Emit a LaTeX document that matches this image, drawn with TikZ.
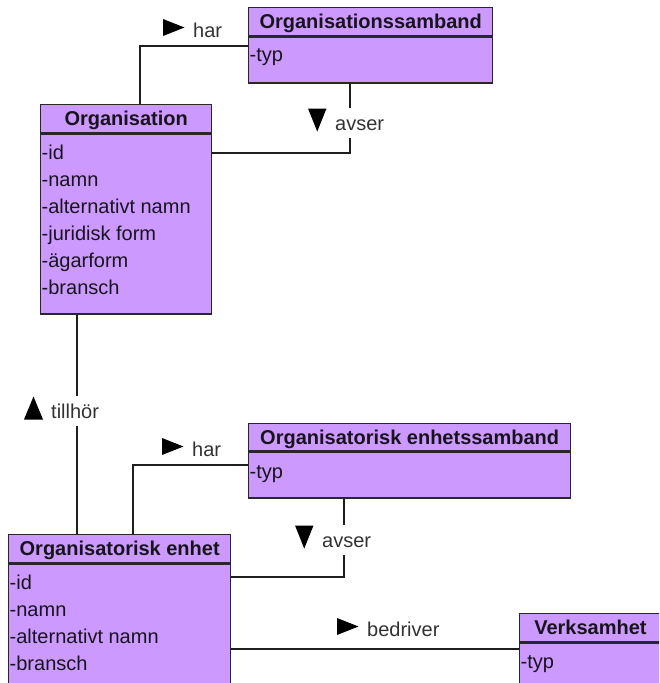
\documentclass[tikz,border=0pt]{standalone}
\usepackage{fontspec}
\setmainfont{Liberation Sans}
\usetikzlibrary{calc}

\definecolor{boxfill}{RGB}{204,153,255}
\definecolor{boxline}{RGB}{40,40,44}
\definecolor{txt}{RGB}{24,20,28}
\definecolor{lbltxt}{RGB}{50,50,50}
\definecolor{linecol}{RGB}{30,30,30}

\tikzset{
  classhead/.style={draw=boxline, fill=boxfill, line width=1.4pt, anchor=north west,
    inner sep=0pt, text=txt, font=\bfseries\fontsize{20}{22}\selectfont,
    text height=14pt, text depth=0pt},
  classbody/.style={draw=boxline, fill=boxfill, line width=1.4pt, anchor=north west,
    inner sep=0pt},
  attr/.style={anchor=base west, inner sep=0pt, text=txt,
    font=\fontsize{20}{22}\selectfont},
  rel/.style={anchor=base west, inner xsep=0pt, inner ysep=0pt, text=lbltxt,
    font=\fontsize{20}{22}\selectfont, text height=22pt, text depth=8pt},
  conn/.style={draw=linecol, line width=1.3pt},
  tri/.style={fill=black}
}

\begin{document}
\begin{tikzpicture}[x=1pt,y=-1pt]
\useasboundingbox (0,0) rectangle (659,683);
\clip (0,0) rectangle (659,683);

% ---- classes ----
\node[classhead, minimum width=244pt, minimum height=28pt] (osH) at (248,7) {Organisationssamband};
\node[classbody, minimum width=244pt, minimum height=46pt] (osB) at (osH.south west) {};

\node[classhead, minimum width=171pt, minimum height=28pt] (orgH) at (40,104) {Organisation};
\node[classbody, minimum width=171pt, minimum height=180pt] (orgB) at (orgH.south west) {};

\node[classhead, minimum width=322pt, minimum height=27pt] (oesH) at (248,423) {Organisatorisk enhetssamband};
\node[classbody, minimum width=322pt, minimum height=46pt] (oesB) at (oesH.south west) {};

\node[classhead, minimum width=222pt, minimum height=28pt] (oeH) at (8,534) {Organisatorisk enhet};
\node[classbody, minimum width=222pt, minimum height=160pt] (oeB) at (oeH.south west) {};

% the Verksamhet box runs past the right edge; its title sits at x = 590
\node[classhead, minimum width=160pt, minimum height=28pt] (vsH) at (519,613) {};
\node[classbody, minimum width=160pt, minimum height=80pt] (vsB) at (vsH.south west) {};
\node[anchor=base, inner sep=0pt, text=txt, font=\bfseries\fontsize{20}{22}\selectfont]
  (vsT) at (590.5,634) {Verksamhet};

% ---- attributes ----
\node[attr] (os-1) at ($(osB.north west)+(1.5,25)$) {-typ};
\foreach \t [count=\i] in {-id,-namn,-alternativt namn,-juridisk form,-ägarform,-bransch}
  \node[attr] (org-\i) at ($(orgB.north west)+(1.5,27*\i-0.5)$) {\t};
\node[attr] (oes-1) at ($(oesB.north west)+(1.5,27)$) {-typ};
\foreach \t [count=\i] in {-id,-namn,-alternativt namn,-bransch}
  \node[attr] (oe-\i) at ($(oeB.north west)+(1.5,27*\i-0.5)$) {\t};
\node[attr] (vs-1) at ($(vsB.north west)+(1.5,26)$) {-typ};

% ---- association labels ----
\node[rel] (har1) at (193,37) {har};
\node[rel] (avs1) at (335,130) {avser};
\node[rel] (till) at (51,418) {tillhör};
\node[rel] (har2) at (192,456) {har};
\node[rel] (avs2) at (322,547) {avser};
\node[rel] (bedr) at (367,636) {bedriver};

% direction triangles
\foreach \n in {har1,har2,bedr}
  \fill[tri] ($(\n.base west)+(-30,-18)$) -- ($(\n.base west)+(-8.5,-9.5)$)
             -- ($(\n.base west)+(-30,-1)$) -- cycle;
\foreach \n in {avs1,avs2}
  \fill[tri] ($(\n.base west)+(-27,-21.5)$) -- ($(\n.base west)+(-8.5,-21.5)$)
             -- ($(\n.base west)+(-17.75,1.5)$) -- cycle;
\fill[tri] ($(till.base west)+(-27,1.5)$) -- ($(till.base west)+(-8,1.5)$)
           -- ($(till.base west)+(-17.5,-21.5)$) -- cycle;

% ---- bend points ----
\coordinate (harBend1) at (140,46);
\coordinate (avsBend1) at (350,153);
\coordinate (tillX)    at (77,0);
\coordinate (harBend2) at (133,465);
\coordinate (avsBend2) at (344,577);
\coordinate (bedrY)    at (0,649);

% ---- connectors ----
\draw[conn] (orgH.north -| harBend1) -- (harBend1) -- (osB.west |- harBend1);
\draw[conn] (osB.south -| avsBend1) -- (avs1.north -| avsBend1);
\draw[conn] (avs1.south -| avsBend1) -- (avsBend1) -- (orgB.east |- avsBend1);
\draw[conn] (orgB.south -| tillX) -- (till.north -| tillX);
\draw[conn] (till.south -| tillX) -- (oeH.north -| tillX);
\draw[conn] (oeH.north -| harBend2) -- (harBend2) -- (oesB.west |- harBend2);
\draw[conn] (oesB.south -| avsBend2) -- (avs2.north -| avsBend2);
\draw[conn] (avs2.south -| avsBend2) -- (avsBend2) -- (oeB.east |- avsBend2);
\draw[conn] (oeB.east |- bedrY) -- (vsB.west |- bedrY);
\end{tikzpicture}
\end{document}
